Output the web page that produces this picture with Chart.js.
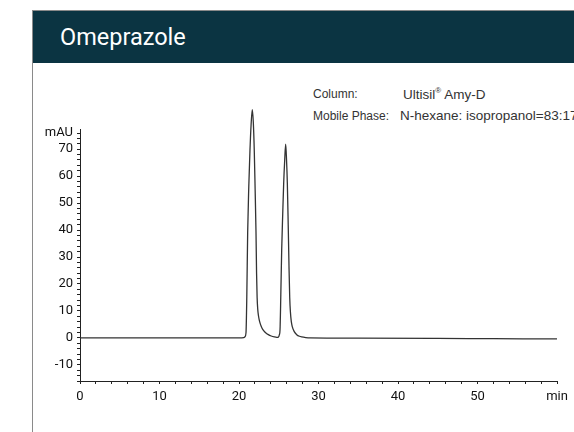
<!DOCTYPE html>
<html>
<head>
<meta charset="utf-8">
<script src="https://cdn.jsdelivr.net/npm/chart.js@4/dist/chart.umd.min.js"></script>
<style>
  html, body { margin: 0; padding: 0; background: #fff; }
  body { width: 574px; height: 432px; position: relative; overflow: hidden; }
  #frame { position: absolute; left: 32px; top: 10px; width: 560px; height: 440px; border-left: 1px solid #8a8a8a; border-top: 1px solid #8a8a8a; }
  #header { position: absolute; left: 33px; top: 11px; width: 541px; height: 52px; background: #0b3442; }
  #title { position: absolute; left: 60px; top: 23px; color: #fff; font-family: Roboto, sans-serif; font-size: 23.5px; line-height: 28px; }
  .note { position: absolute; font-family: "Liberation Sans", Arial, sans-serif; font-size: 12px; color: #333; white-space: nowrap; }
  .val { font-size: 13.5px; }
  #chart { position: absolute; left: 0; top: 0; }
</style>
</head>
<body>
<div id="frame"></div>
<div id="header"></div>
<div id="title">Omeprazole</div>
<div class="note" style="left:313px; top:87px;">Column:</div>
<div class="note val" style="left:403px; top:86px;">Ultisil<sup style="font-size:8px">®</sup> Amy-D</div>
<div class="note" style="left:313px; top:109px;">Mobile Phase:</div>
<div class="note val" style="left:400px; top:108px;">N-hexane: isopropanol=83:17</div>
<canvas id="chart" width="574" height="432"></canvas>
<script>
// chromatogram: time (min) and signal (mAU)
const retentionTime = [0, 10, 20, 20.6, 20.75, 20.88, 20.98, 21.09, 21.23, 21.38, 21.52, 21.67, 21.8, 21.92, 22.03, 22.14, 22.21, 22.28, 22.36, 22.45, 22.55, 22.7, 22.9, 23.1, 23.35, 23.69, 24.05, 24.44, 24.75, 24.95, 25.08, 25.16, 25.26, 25.37, 25.5, 25.62, 25.75, 25.87, 25.98, 26.08, 26.19, 26.29, 26.38, 26.47, 26.58, 26.7, 26.95, 27.26, 27.6, 27.89, 28.4, 28.93, 35, 45, 52, 60];
const absorbance = [0, 0, 0, 0.1, 0.4, 1.9, 15, 38.9, 56, 69.6, 79, 84.7, 80, 69.6, 55, 38.9, 24, 15, 10.5, 8.2, 6.6, 5, 3.6, 2.7, 1.9, 1.2, 0.7, 0.35, 0.2, 0.3, 1.2, 3.0, 16, 32.6, 46, 57.4, 66, 71.9, 66, 57.4, 42, 26.4, 15, 9.5, 6, 4.2, 2.3, 1.2, 0.6, 0.35, 0.12, 0, -0.1, -0.2, -0.3, -0.4];

const xTicks = [0, 2, 4, 6, 8, 10, 12, 14, 16, 18, 20, 22, 24, 26, 28, 30, 32, 34, 36, 38, 40, 42, 44, 46, 48, 50, 52, 54, 56, 58, 60];
const yTicks = [-16, -14, -12, -10, -8, -6, -4, -2, 0, 2, 4, 6, 8, 10, 12, 14, 16, 18, 20, 22, 24, 26, 28, 30, 32, 34, 36, 38, 40, 42, 44, 46, 48, 50, 52, 54, 56, 58, 60, 62, 64, 66, 68, 70, 72, 74, 76];

const points = retentionTime.map((t, i) => ({ x: t, y: absorbance[i] }));
const tickFont = { family: 'Roboto, sans-serif', size: 13 };

new Chart(document.getElementById('chart'), {
    type: 'line',
    data: {
        datasets: [{
            data: points,
            borderColor: '#333',
            borderWidth: 1.3,
            pointRadius: 0,
            cubicInterpolationMode: 'monotone',
            clip: false
        }]
    },
    options: {
        responsive: false,
        animation: false,
        layout: { padding: { top: 129, right: 17, left: 0, bottom: 0 } },
        plugins: { legend: { display: false }, tooltip: { enabled: false } },
        scales: {
            x: {
                type: 'linear',
                min: 0,
                max: 60,
                afterBuildTicks: s => { s.ticks = xTicks.map(v => ({ value: v })); },
                afterFit: s => { s.height = 51; },
                border: { color: '#222', width: 1 },
                grid: { drawOnChartArea: false, color: '#222', tickLength: 3 },
                ticks: {
                    color: '#111',
                    font: tickFont,
                    padding: 5,
                    maxRotation: 0,
                    autoSkip: false,
                    callback: v => v === 60 ? 'min' : (v % 10 === 0 ? v : '')
                }
            },
            y: {
                min: -16,
                max: 77.5,
                afterBuildTicks: s => { s.ticks = yTicks.map(v => ({ value: v })); },
                afterFit: s => { s.width = 80; },
                border: { color: '#222', width: 1 },
                grid: { drawOnChartArea: false, color: '#222', tickLength: 3 },
                ticks: {
                    color: '#111',
                    font: tickFont,
                    padding: 4,
                    autoSkip: false,
                    callback: v => v === 76 ? 'mAU' : (v % 10 === 0 ? v : '')
                }
            }
        }
    }
});
</script>
</body>
</html>
